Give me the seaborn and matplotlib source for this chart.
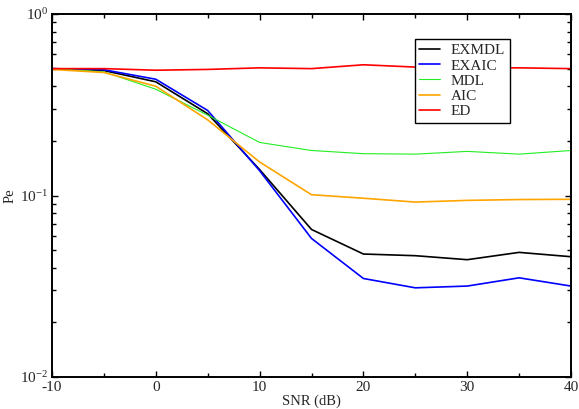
import matplotlib
matplotlib.use("Agg")
import matplotlib.pyplot as plt
import matplotlib.ticker as mticker
import numpy as np
import pandas as pd
import seaborn as sns

snr = [-10, -5, 0, 5, 10, 15, 20, 25, 30, 35, 40]
exmdl = [0.50, 0.488, 0.423, 0.282, 0.139, 0.065, 0.0476, 0.0466, 0.0443, 0.0486, 0.046]
exaic = [0.50, 0.493, 0.437, 0.294, 0.137, 0.058, 0.0349, 0.031, 0.0317, 0.0352, 0.0317]
mdl = [0.50, 0.480, 0.385, 0.277, 0.196, 0.177, 0.170, 0.169, 0.175, 0.169, 0.177]
aic = [0.495, 0.476, 0.400, 0.261, 0.153, 0.101, 0.0966, 0.092, 0.094, 0.095, 0.0953]
ed = [0.50, 0.50, 0.49, 0.495, 0.505, 0.50, 0.525, 0.51, 0.505, 0.505, 0.50]

methods = ["EXMDL", "EXAIC", "MDL", "AIC", "ED"]
colors = ["black", "blue", "#22ee22", "orange", "red"]
widths = [1.2, 1.2, 0.8, 1.2, 1.2]

df = pd.DataFrame({
    "SNR": snr * 5,
    "Pe": exmdl + exaic + mdl + aic + ed,
    "method": [m for m in methods for _ in snr],
})

sns.set_style("ticks")
plt.rcParams["font.family"] = ["Liberation Serif", "DejaVu Serif"]
plt.rcParams["mathtext.fontset"] = "custom"
plt.rcParams["mathtext.rm"] = "Liberation Serif"
plt.rcParams["mathtext.it"] = "Liberation Serif"
plt.rcParams["axes.unicode_minus"] = False

fig = plt.figure(figsize=(5.79, 4.09), dpi=100)
ax = fig.add_axes([0.0898, 0.0782, 0.8964, 0.8876])

sns.lineplot(data=df, x="SNR", y="Pe", hue="method", hue_order=methods,
             palette=dict(zip(methods, colors)), ax=ax, legend=True)
for line, lw in zip(ax.get_lines(), widths):
    line.set_linewidth(lw)

ax.set_yscale("log")
ax.set_xlim(-10, 40)
ax.set_ylim(1e-2, 1)
ax.xaxis.set_major_locator(mticker.MultipleLocator(10))
ax.xaxis.set_minor_locator(mticker.MultipleLocator(5))
ax.yaxis.set_major_locator(mticker.LogLocator(base=10))
ax.yaxis.set_minor_locator(mticker.LogLocator(base=10, subs=np.arange(2, 10)))
ax.yaxis.set_minor_formatter(mticker.NullFormatter())

ax.tick_params(which="both", direction="in", top=True, right=True,
               labelsize=11, width=1.0, color="black")
ax.tick_params(which="major", length=4.3, pad=3)
ax.tick_params(which="minor", length=2.9)
for sp in ax.spines.values():
    sp.set_linewidth(1.4)
    sp.set_color("black")

ax.set_xlabel("SNR (dB)", fontsize=10.5, labelpad=0)
ax.set_ylabel("Pe", fontsize=10.5, labelpad=2)

handles, labels = ax.get_legend_handles_labels()
for h, lw in zip(handles, widths):
    h.set_linewidth(lw)
leg = ax.legend(handles, labels, loc="upper left", bbox_to_anchor=(0.699, 0.931),
                fontsize=11, frameon=True, fancybox=False, framealpha=1,
                edgecolor="black", handlelength=1.35, handletextpad=0.7,
                labelspacing=0.1, borderpad=0.3, borderaxespad=0)
leg.get_frame().set_linewidth(1.0)

fig.savefig("out.png", dpi=100)
